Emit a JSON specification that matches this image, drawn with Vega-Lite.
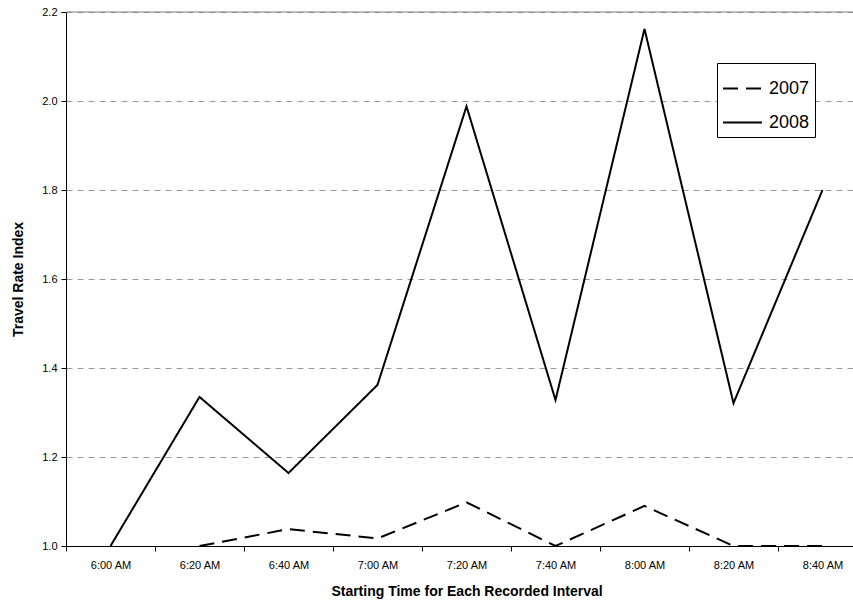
{
  "$schema": "https://vega.github.io/schema/vega-lite/v6.json",
  "autosize": "none",
  "width": 801,
  "height": 534,
  "padding": {"left": 66, "top": 12, "right": 0, "bottom": 66},
  "background": "white",
  "config": {
    "font": "Liberation Sans",
    "view": {"stroke": null}
  },
  "data": {
    "values": [
      {"time": "6:00 AM", "year": "2008", "tri": 1.0},
      {"time": "6:20 AM", "year": "2008", "tri": 1.335},
      {"time": "6:40 AM", "year": "2008", "tri": 1.164},
      {"time": "7:00 AM", "year": "2008", "tri": 1.362},
      {"time": "7:20 AM", "year": "2008", "tri": 1.988},
      {"time": "7:40 AM", "year": "2008", "tri": 1.328},
      {"time": "8:00 AM", "year": "2008", "tri": 2.162},
      {"time": "8:20 AM", "year": "2008", "tri": 1.321},
      {"time": "8:40 AM", "year": "2008", "tri": 1.8},
      {"time": "6:20 AM", "year": "2007", "tri": 1.0},
      {"time": "6:40 AM", "year": "2007", "tri": 1.038},
      {"time": "7:00 AM", "year": "2007", "tri": 1.017},
      {"time": "7:20 AM", "year": "2007", "tri": 1.098},
      {"time": "7:40 AM", "year": "2007", "tri": 1.0},
      {"time": "8:00 AM", "year": "2007", "tri": 1.09},
      {"time": "8:20 AM", "year": "2007", "tri": 1.0},
      {"time": "8:40 AM", "year": "2007", "tri": 1.0}
    ]
  },
  "layer": [
    {
      "mark": {"type": "rule", "stroke": "#808080", "strokeWidth": 1},
      "data": {"values": [{"y": 2.2}]},
      "encoding": {"y": {"field": "y", "type": "quantitative", "scale": {"domain": [1.0, 2.2]}}}
    },
    {
      "mark": {"type": "line", "color": "black", "strokeWidth": 2},
      "encoding": {
        "x": {
          "field": "time",
          "type": "ordinal",
          "sort": null,
          "scale": {"type": "band", "paddingInner": 0, "paddingOuter": 0},
          "axis": {
            "title": "Starting Time for Each Recorded Interval",
            "titleFontSize": 14,
            "titleFontWeight": "bold",
            "titleColor": "black",
            "titlePadding": 14,
            "labelAngle": 0,
            "labelFontSize": 11,
            "labelColor": "black",
            "labelPadding": 8,
            "domainColor": "black",
            "domainWidth": 1,
            "tickColor": "black",
            "tickBand": "extent",
            "tickSize": 5
          }
        },
        "y": {
          "field": "tri",
          "type": "quantitative",
          "scale": {"domain": [1.0, 2.2], "nice": false, "zero": false},
          "axis": {
            "title": "Travel Rate Index",
            "titleFontSize": 14,
            "titleFontWeight": "bold",
            "titleColor": "black",
            "titlePadding": 16,
            "values": [1.0, 1.2, 1.4, 1.6, 1.8, 2.0, 2.2],
            "format": ".1f",
            "labelFontSize": 11,
            "labelColor": "black",
            "labelPadding": 4,
            "domainColor": "black",
            "tickColor": "black",
            "tickSize": 5,
            "grid": true,
            "gridColor": "#999999",
            "gridDash": [6, 5],
            "gridWidth": 1
          }
        },
        "strokeDash": {
          "field": "year",
          "type": "nominal",
          "scale": {"domain": ["2007", "2008"], "range": [[15, 8], [1, 0]]},
          "legend": {
            "title": null,
            "orient": "none",
            "legendX": 651,
            "legendY": 51,
            "symbolType": "stroke",
            "symbolSize": 1521,
            "symbolStrokeWidth": 2,
            "symbolStrokeColor": "black",
            "labelFontSize": 18,
            "labelColor": "black",
            "labelOffset": 6,
            "rowPadding": 4,
            "padding": 5,
            "strokeColor": "black",
            "fillColor": "white"
          }
        }
      }
    }
  ]
}
